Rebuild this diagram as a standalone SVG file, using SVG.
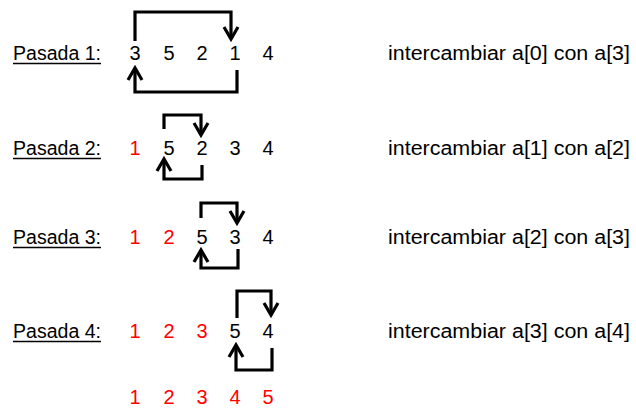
<svg xmlns="http://www.w3.org/2000/svg" width="636" height="409" viewBox="0 0 636 409">
  <style>
    text { font-family: "Liberation Sans", Arial, sans-serif; font-size: 20px; fill: #000; }
    .num { text-anchor: middle; }
    .done { fill: #ff0000; }
    .ul { stroke: #000; stroke-width: 1.6; }
    .conn { fill: none; stroke: #000; stroke-width: 3.2; stroke-linejoin: miter; stroke-linecap: butt; }
    .head { fill: none; stroke: #000; stroke-width: 3.2; stroke-linejoin: miter; }
  </style>
  <rect width="636" height="409" fill="#fff"/>

  <!-- Pass 1 -->
  <g id="pass1">
    <text x="13" y="60" textLength="88" lengthAdjust="spacingAndGlyphs">Pasada 1:</text>
    <line class="ul" x1="13" y1="63.5" x2="101" y2="63.5"/>
    <text class="num" x="135" y="60">3</text>
    <text class="num" x="169" y="60">5</text>
    <text class="num" x="202" y="60">2</text>
    <text class="num" x="235" y="60">1</text>
    <text class="num" x="268" y="60">4</text>
    <text x="388" y="60" textLength="242" lengthAdjust="spacingAndGlyphs">intercambiar a[0] con a[3]</text>
  </g>

  <!-- Pass 2 -->
  <g id="pass2">
    <text x="13" y="155" textLength="88" lengthAdjust="spacingAndGlyphs">Pasada 2:</text>
    <line class="ul" x1="13" y1="158.5" x2="101" y2="158.5"/>
    <text class="num done" x="135" y="155">1</text>
    <text class="num" x="169" y="155">5</text>
    <text class="num" x="202" y="155">2</text>
    <text class="num" x="235" y="155">3</text>
    <text class="num" x="268" y="155">4</text>
    <text x="388" y="155" textLength="242" lengthAdjust="spacingAndGlyphs">intercambiar a[1] con a[2]</text>
  </g>

  <!-- Pass 3 -->
  <g id="pass3">
    <text x="13" y="244" textLength="88" lengthAdjust="spacingAndGlyphs">Pasada 3:</text>
    <line class="ul" x1="13" y1="247.5" x2="101" y2="247.5"/>
    <text class="num done" x="135" y="244">1</text>
    <text class="num done" x="169" y="244">2</text>
    <text class="num" x="202" y="244">5</text>
    <text class="num" x="235" y="244">3</text>
    <text class="num" x="268" y="244">4</text>
    <text x="388" y="244" textLength="242" lengthAdjust="spacingAndGlyphs">intercambiar a[2] con a[3]</text>
  </g>

  <!-- Pass 4 -->
  <g id="pass4">
    <text x="13" y="338" textLength="88" lengthAdjust="spacingAndGlyphs">Pasada 4:</text>
    <line class="ul" x1="13" y1="341.5" x2="101" y2="341.5"/>
    <text class="num done" x="135" y="338">1</text>
    <text class="num done" x="169" y="338">2</text>
    <text class="num done" x="202" y="338">3</text>
    <text class="num" x="235" y="338">5</text>
    <text class="num" x="268" y="338">4</text>
    <text x="388" y="338" textLength="242" lengthAdjust="spacingAndGlyphs">intercambiar a[3] con a[4]</text>
  </g>

  <!-- Sorted result -->
  <g id="result">
    <text class="num done" x="135" y="404">1</text>
    <text class="num done" x="169" y="404">2</text>
    <text class="num done" x="202" y="404">3</text>
    <text class="num done" x="235" y="404">4</text>
    <text class="num done" x="268" y="404">5</text>
  </g>

  <!-- Swap connectors: bracket lines with open chevron heads -->
  <g id="connectors">
    <!-- pass 1 -->
    <path class="conn" d="M135,41 V12 H231 V38"/>
    <path class="head" d="M224,27 L231,39 L238,27"/>
    <path class="conn" d="M237,70 V92 H135 V68"/>
    <path class="head" d="M128,80 L135,68 L142,80"/>
    <!-- pass 2 -->
    <path class="conn" d="M164,129 V115 H201 V134"/>
    <path class="head" d="M194,123 L201,135 L208,123"/>
    <path class="conn" d="M202,165 V179 H164 V160"/>
    <path class="head" d="M157,171 L164,159 L171,171"/>
    <!-- pass 3 -->
    <path class="conn" d="M201,218 V203 H237 V222"/>
    <path class="head" d="M230,211 L237,223 L244,211"/>
    <path class="conn" d="M238,249 V268 H201 V251"/>
    <path class="head" d="M194,262 L201,250 L208,262"/>
    <!-- pass 4 -->
    <path class="conn" d="M237,318 V291 H271 V314"/>
    <path class="head" d="M264,303 L271,315 L278,303"/>
    <path class="conn" d="M272,348 V370 H236 V346"/>
    <path class="head" d="M229,357 L236,345 L243,357"/>
  </g>
</svg>
